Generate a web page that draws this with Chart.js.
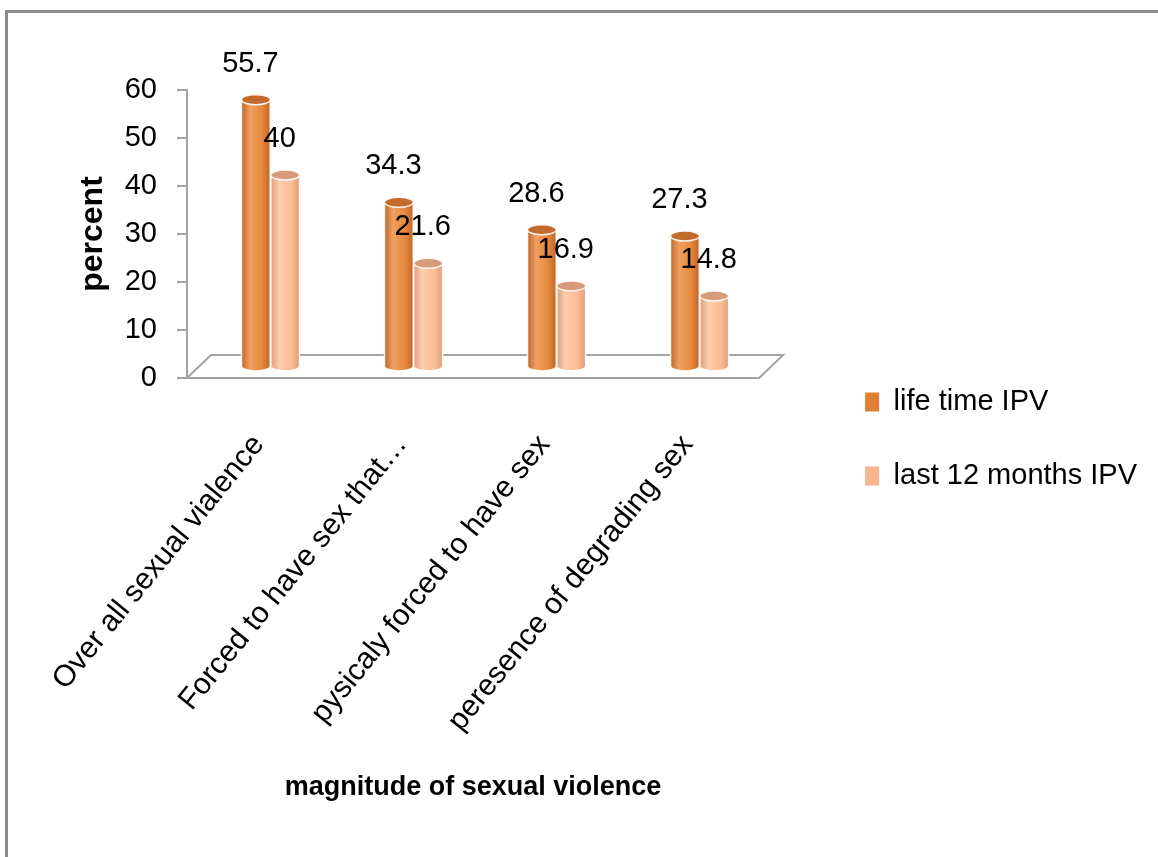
<!DOCTYPE html>
<html>
<head>
<meta charset="utf-8">
<title>magnitude of sexual violence</title>
<script src="https://cdn.jsdelivr.net/npm/chart.js@4.4.1/dist/chart.umd.min.js"></script>
<style>
  html, body { margin: 0; padding: 0; background: #ffffff; }
  canvas { display: block; }
</style>
</head>
<body>
<canvas id="chart" width="1158" height="857"></canvas>
<script>
// ---- data ----
const categories = [
  'Over all sexual vialence',
  'Forced to have sex that\u2026',
  'pysicaly forced to have sex',
  'peresence of degrading sex'
];
const seriesNames = ['life time IPV', 'last 12 months IPV'];
const lifetimeIPV = [55.7, 34.3, 28.6, 27.3];
const last12MonthsIPV = [40, 21.6, 16.9, 14.8];
const yTicks = [0, 10, 20, 30, 40, 50, 60];
const yTitle = 'percent';
const xTitle = 'magnitude of sexual violence';

// ---- styling ----
const FONT = "'Liberation Sans', Arial, sans-serif";
const AXIS_GREY = '#a3a3a3';
const palettes = [
  { flat: '#e07e34', edge: '#c0652a', light: '#f0a060', body: '#e5883c', cap: '#c46a2c' },
  { flat: '#f9b68e', edge: '#dc9f7e', light: '#fdcdab', body: '#fbbb93', cap: '#d89a7a' }
];
// the bars stand half way into the floor's depth
const BAR_SHIFT = { x: 12, y: -11 };
const FLOOR_DEPTH = { x: 24, y: -23 };

function drawCylinder(ctx, x, top, base, w, pal) {
  const l = x - w / 2, r = x + w / 2, rx = w / 2, ry = 5;
  const g = ctx.createLinearGradient(l, 0, r, 0);
  g.addColorStop(0, pal.edge);
  g.addColorStop(0.3, pal.light);
  g.addColorStop(0.72, pal.body);
  g.addColorStop(1, pal.edge);
  ctx.beginPath();
  ctx.moveTo(l, top);
  ctx.lineTo(l, base);
  ctx.ellipse(x, base, rx, ry, 0, Math.PI, 0, true);
  ctx.lineTo(r, top);
  ctx.closePath();
  ctx.fillStyle = g;
  ctx.fill();
  ctx.strokeStyle = 'rgba(255,255,255,0.9)';
  ctx.lineWidth = 1.5;
  ctx.stroke();
  ctx.beginPath();
  ctx.ellipse(x, top, rx, ry, 0, 0, Math.PI * 2);
  ctx.fillStyle = pal.cap;
  ctx.fill();
  ctx.stroke();
}

const cylinderBars = {
  id: 'cylinderBars',
  beforeDraw(chart) {
    const { ctx, width, height } = chart;
    ctx.save();
    ctx.fillStyle = '#ffffff';
    ctx.fillRect(0, 0, width, height);
    // outer frame (left and top edges)
    ctx.strokeStyle = '#8a8a8a';
    ctx.lineWidth = 3;
    ctx.beginPath();
    ctx.moveTo(6.5, height);
    ctx.lineTo(6.5, 11.5);
    ctx.lineTo(width, 11.5);
    ctx.stroke();
    ctx.restore();
  },
  beforeDatasetsDraw(chart) {
    const { ctx, chartArea: { left, right }, scales: { y } } = chart;
    const y0 = y.getPixelForValue(0);
    // floor of the plot
    ctx.save();
    ctx.strokeStyle = AXIS_GREY;
    ctx.lineWidth = 2;
    ctx.beginPath();
    ctx.moveTo(left, y0);
    ctx.lineTo(left + FLOOR_DEPTH.x, y0 + FLOOR_DEPTH.y);
    ctx.lineTo(right + FLOOR_DEPTH.x, y0 + FLOOR_DEPTH.y);
    ctx.lineTo(right, y0);
    ctx.stroke();
    ctx.restore();
    ctx.save();
    ctx.translate(BAR_SHIFT.x, BAR_SHIFT.y);
  },
  afterDatasetsDraw(chart) {
    const { ctx } = chart;
    chart.data.datasets.forEach((ds, di) => {
      const meta = chart.getDatasetMeta(di);
      meta.data.forEach((el) => {
        const p = el.getProps(['x', 'y', 'base', 'width'], true);
        drawCylinder(ctx, p.x, p.y, p.base, p.width, palettes[di]);
      });
    });
    // value labels above each cylinder
    ctx.font = '29px ' + FONT;
    ctx.fillStyle = '#000000';
    ctx.textAlign = 'center';
    ctx.textBaseline = 'middle';
    chart.data.datasets.forEach((ds, di) => {
      const meta = chart.getDatasetMeta(di);
      meta.data.forEach((el, i) => {
        const p = el.getProps(['x', 'y'], true);
        ctx.fillText(String(ds.data[i]), p.x - 5.5, p.y - 36);
      });
    });
    ctx.restore();
  }
};

new Chart(document.getElementById('chart'), {
  type: 'bar',
  data: {
    labels: categories,
    datasets: [
      { label: seriesNames[0], data: lifetimeIPV, yAxisID: 'y',
        backgroundColor: palettes[0].flat, borderWidth: 0,
        categoryPercentage: 0.41, barPercentage: 0.98 },
      { label: seriesNames[1], data: last12MonthsIPV, yAxisID: 'y',
        backgroundColor: palettes[1].flat, borderWidth: 0,
        categoryPercentage: 0.41, barPercentage: 0.98 }
    ]
  },
  options: {
    responsive: false,
    animation: false,
    devicePixelRatio: 1,
    layout: { padding: { top: 90, bottom: 69, left: 70, right: 11 } },
    plugins: {
      tooltip: { enabled: false },
      legend: {
        position: 'right',
        align: 'center',
        maxWidth: 340,
        labels: {
          boxWidth: 14,
          boxHeight: 19,
          padding: 45,
          color: '#000000',
          font: { family: FONT, size: 29 }
        }
      }
    },
    scales: {
      x: {
        grid: { display: false },
        border: { display: true, color: AXIS_GREY, width: 2 },
        ticks: {
          autoSkip: false, minRotation: 51, maxRotation: 51, padding: 42,
          color: '#000000', font: { family: FONT, size: 30 }
        },
        title: {
          display: true, text: xTitle, color: '#000000',
          font: { family: FONT, size: 27, weight: 'bold' },
          padding: { top: 0, bottom: -16 }
        },
        afterFit(s) { s.height = 410; s.paddingLeft = 0; s.paddingRight = 0; }
      },
      y: {
        min: yTicks[0],
        max: yTicks[yTicks.length - 1],
        afterBuildTicks(s) { s.ticks = yTicks.map(v => ({ value: v })); },
        grid: { display: true, drawOnChartArea: false, drawTicks: true, tickLength: 10,
                color: AXIS_GREY, lineWidth: 2 },
        border: { display: true, color: AXIS_GREY, width: 2 },
        ticks: { padding: 20, color: '#000000', font: { family: FONT, size: 29 } },
        title: {
          display: true, text: yTitle, color: '#000000',
          font: { family: FONT, size: 32, weight: 'bold' },
          padding: { top: 4, bottom: 0 }
        },
        afterFit(s) { s.width = 117; }
      },
      legendGap: {
        type: 'linear',
        position: 'right',
        display: true,
        grid: { display: false },
        border: { display: false },
        ticks: { display: false },
        afterFit(s) { s.width = 61; }
      }
    }
  },
  plugins: [cylinderBars]
});
</script>
</body>
</html>
